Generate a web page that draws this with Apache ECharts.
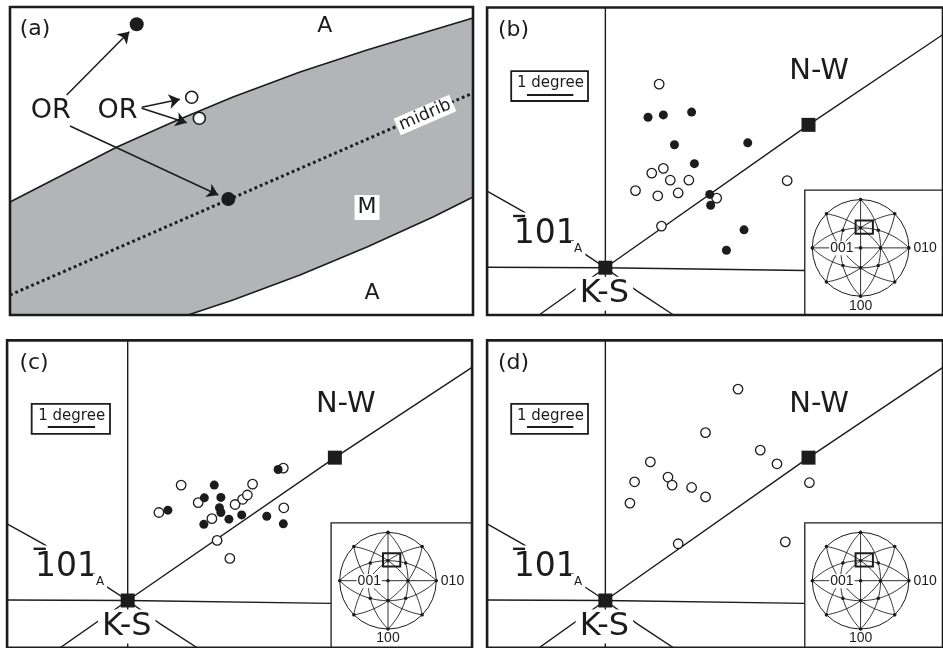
<!DOCTYPE html>
<html><head><meta charset="utf-8">
<script src="https://cdn.jsdelivr.net/npm/echarts@6/dist/echarts.min.js"></script>
<style>html,body{margin:0;padding:0;background:#fff}#c{width:943px;height:648px}</style>
</head><body><div id="c"></div>
<script>
// ================= DATA =================
// Panel (a): schematic of a martensite plate; units = panel pixels, origin at bottom-left of frame
const aUpperBoundary = [[0,113],[107,168],[163,193],[223,218],[290,243],[357,265],[423,285],[463,297]];
const aLowerBoundary = [[463,118],[423,98],[357,68],[290,40],[223,15],[178,0]];
const aMidrib = [[0,20],[463,222]];
const aFilledPoints = [[126.7,290.7],[218.3,116]];
const aOpenPoints = [[181.7,217.7],[189.3,196.7]];
const aArrows = [
  [[56.7,220],[119.3,283.3]],
  [[60,189],[208.3,120]],
  [[131.7,207.7],[170,215.7]],
  [[131.7,206.7],[176.7,192.3]]
];

// Panels (b)-(d): orientation offsets in degrees, origin = K-S orientation
const refKS = [0, 0];
const refNW = [4.38, 3.02];
const traceLines = [
  [[-2.55,1.62],[-1.76,1.18],[-0.40,0.26],[0,0],[0.68,-0.49],[1.47,-1.0]],
  [[-1.43,-1.0],[0,0],[4.38,3.02],[7.28,4.93]],
  [[-2.55,0.01],[0,0],[4.30,-0.06]],
  [[0,-1.0],[0,5.5]]
];
const scaleBar = [[-1.69,3.666],[-0.69,3.666]]; // 1 degree

const bOpen = [[1.16,3.88],[1.00,2.00],[1.25,2.10],[1.40,1.85],[1.80,1.85],[0.65,1.63],[1.13,1.52],[1.57,1.58],[2.40,1.47],[1.21,0.88],[3.92,1.84]];
const bFilled = [[0.92,3.18],[1.25,3.23],[1.86,3.29],[1.49,2.60],[3.07,2.64],[1.92,2.20],[2.25,1.55],[2.27,1.32],[2.99,0.80],[2.61,0.37]];
const cOpen = [[1.13,2.44],[0.66,1.86],[1.49,2.07],[1.78,1.73],[2.27,2.03],[2.43,2.14],[2.53,2.23],[2.64,2.46],[3.29,2.80],[3.30,1.96],[1.89,1.27],[2.16,0.89]];
const cFilled = [[0.85,1.91],[1.83,2.44],[1.62,2.17],[1.97,2.18],[1.94,1.96],[1.97,1.86],[1.61,1.61],[2.14,1.72],[2.41,1.81],[2.94,1.78],[3.29,1.62],[3.18,2.77]];
const dOpen = [[2.86,4.47],[2.16,3.55],[0.97,2.93],[3.34,3.18],[3.70,2.89],[0.63,2.51],[1.35,2.61],[1.44,2.44],[1.86,2.39],[2.16,2.19],[0.53,2.06],[1.57,1.20],[3.88,1.24],[4.40,2.49]];
const panelLabels = ['(b)','(c)','(d)'];

// ================= LAYOUT =================
const INK = '#1c1c1c';
const FONT = '"DejaVu Sans", sans-serif';
const DEG = 47.3;                 // pixels per degree
const XR = [-2.55, 7.28], YR = [-1.0, 5.5];
const ksPix = [[607.7,267.7],[127.7,600.5],[607.7,600.5]];
const grids = [{left:10, top:7, width:463, height:308}];
ksPix.forEach(k => grids.push({left:k[0]+XR[0]*DEG, top:k[1]-YR[1]*DEG, width:(XR[1]-XR[0])*DEG, height:(YR[1]-YR[0])*DEG}));
const stereo = {c:[5.503,0.419], r:1.021};
const inset = {x0:4.30, y0:1.64};

const chart = echarts.init(document.getElementById('c'), null, {renderer:'canvas'});
const xAxis = [{gridIndex:0,type:'value',min:0,max:463,show:false}];
const yAxis = [{gridIndex:0,type:'value',min:0,max:308,show:false}];
for (let i=1;i<=3;i++){
  xAxis.push({gridIndex:i,type:'value',min:XR[0],max:XR[1],show:false});
  yAxis.push({gridIndex:i,type:'value',min:YR[0],max:YR[1],show:false});
}
const series = [];
const bandPolygon = aUpperBoundary.concat(aLowerBoundary, [[0,0]]);
series.push({type:'custom', xAxisIndex:0, yAxisIndex:0, silent:true, z:1, data:[[0,0]],
  renderItem:(params, api) => ({type:'polygon', shape:{points: bandPolygon.map(pt => api.coord(pt))}, style:{fill:'#b3b4b7', stroke:'none'}})});
[aUpperBoundary, aLowerBoundary].forEach(d => series.push({type:'line', xAxisIndex:0, yAxisIndex:0, data:d, symbol:'none', silent:true, z:2, lineStyle:{color:INK, width:1.6}}));
series.push({type:'line', xAxisIndex:0, yAxisIndex:0, data:aMidrib, symbol:'none', silent:true, z:2, lineStyle:{color:INK, width:3, type:[2.8,3]}});
series.push({type:'lines', coordinateSystem:'cartesian2d', xAxisIndex:0, yAxisIndex:0, silent:true, z:3,
  symbol:['none','arrow'], symbolSize:11, lineStyle:{color:INK, width:1.5, opacity:1, curveness:0},
  data:aArrows.map(c => ({coords:c}))});
series.push({type:'scatter', xAxisIndex:0, yAxisIndex:0, data:aOpenPoints, symbolSize:12, silent:true, z:4, itemStyle:{color:'#fff', borderColor:INK, borderWidth:1.6, opacity:1}});
series.push({type:'scatter', xAxisIndex:0, yAxisIndex:0, data:aFilledPoints, symbolSize:14, silent:true, z:4, itemStyle:{color:INK, opacity:1}});

const openSets = [bOpen, cOpen, dOpen];
const filledSets = [bFilled, cFilled, []];
for (let i=1;i<=3;i++){
  series.push({type:'lines', coordinateSystem:'cartesian2d', xAxisIndex:i, yAxisIndex:i, polyline:true, clip:true, silent:true, z:2,
    lineStyle:{color:INK, width:1.4, opacity:1}, data: traceLines.map(c => ({coords:c}))});
  series.push({type:'lines', coordinateSystem:'cartesian2d', xAxisIndex:i, yAxisIndex:i, silent:true, z:2,
    lineStyle:{color:INK, width:2, opacity:1}, data:[{coords:scaleBar}]});
  series.push({type:'scatter', xAxisIndex:i, yAxisIndex:i, data:[refKS, refNW], symbol:'rect', symbolSize:14, silent:true, z:3, itemStyle:{color:INK, opacity:1}});
  series.push({type:'scatter', xAxisIndex:i, yAxisIndex:i, data:openSets[i-1], symbolSize:9.5, silent:true, z:4, itemStyle:{color:'#fff', borderColor:INK, borderWidth:1.3, opacity:1}});
  if (filledSets[i-1].length) series.push({type:'scatter', xAxisIndex:i, yAxisIndex:i, data:filledSets[i-1], symbolSize:9, silent:true, z:5, itemStyle:{color:INK, opacity:1}});
}

chart.setOption({animation:false, backgroundColor:'#fff',
  grid: grids.map(g => Object.assign({show:false, containLabel:false}, g)),
  xAxis, yAxis, series});

// ================= ANNOTATIONS =================
const G = [];
const P = (gi, pt) => chart.convertToPixel({gridIndex:gi}, pt);
function text(gi, pt, str, size, opt) {
  opt = opt || {};
  const q = P(gi, pt);
  G.push({type:'text', x:q[0], y:q[1], rotation:opt.rotation||0, z:opt.z||100, silent:true,
    style:Object.assign({text:str, font:size+'px '+(opt.family||FONT), fill:INK, align:'center', verticalAlign:'middle'}, opt.style||{})});
}
// frames
for (let i=0;i<4;i++){
  const a = P(i, [xAxis[i].min, yAxis[i].max]), b = P(i, [xAxis[i].max, yAxis[i].min]);
  G.push({type:'rect', z:200, silent:true, shape:{x:a[0], y:a[1], width:b[0]-a[0], height:b[1]-a[1]}, style:{fill:'none', stroke:INK, lineWidth:2.6}});
}
// panel (a) texts
text(0, [25,286.2], '(a)', 22);
text(0, [40.8,204], 'OR', 27);
text(0, [107.5,204], 'OR', 27);
text(0, [314.7,288.8], 'A', 22);
text(0, [362,22.2], 'A', 22);
text(0, [357,107.5], 'M', 22, {style:{backgroundColor:'#fff', padding:[2,3,1,3]}});
text(0, [415,200], 'midrib', 17, {rotation:Math.atan2(aMidrib[1][1]-aMidrib[0][1], aMidrib[1][0]-aMidrib[0][0]), style:{backgroundColor:'#fff', padding:[0,3,1,3]}});

function greatArc(cx, cy, r, ux, uy, vx, vy, d) {
  const dd = d*r, c = (dd*dd - r*r)/(2*dd), Cx = cx + c*vx, Cy = cy + c*vy, R = dd - c;
  const a1 = Math.atan2(cy + r*uy - Cy, cx + r*ux - Cx), a2 = Math.atan2(cy - r*uy - Cy, cx - r*ux - Cx);
  let diff = a2 - a1; while (diff > Math.PI) diff -= 2*Math.PI; while (diff < -Math.PI) diff += 2*Math.PI;
  const pts = []; for (let k=0;k<=48;k++){ const a = a1 + diff*k/48; pts.push([Cx + R*Math.cos(a), Cy + R*Math.sin(a)]); }
  return pts;
}
const s2 = Math.SQRT1_2;
for (let i=1;i<=3;i++){
  text(i, [-1.98,5.02], panelLabels[i-1], 22);
  text(i, [4.61,4.15], 'N-W', 29);
  text(i, [-0.02,-0.55], 'K-S', 32, {style:{backgroundColor:'#fff', padding:[3,4,1,4], lineHeight:30}});
  text(i, [-1.294,0.70], '101', 33, {style:{backgroundColor:'#fff', padding:[6,5,4,5], lineHeight:34}});
  const o0 = P(i, [-1.99,1.093]), o1 = P(i, [-1.73,1.093]);
  G.push({type:'line', z:101, silent:true, shape:{x1:o0[0], y1:o0[1], x2:o1[0], y2:o1[1]}, style:{stroke:INK, lineWidth:2.4}});
  text(i, [-0.586,0.395], 'A', 12, {style:{backgroundColor:'#fff', padding:[2,3,2,3]}});
  // scale box
  const s0 = P(i, [-2.03,4.158]), s1 = P(i, [-0.374,3.524]);
  G.push({type:'rect', z:90, silent:true, shape:{x:s0[0], y:s0[1], width:s1[0]-s0[0], height:s1[1]-s0[1]}, style:{fill:'none', stroke:INK, lineWidth:1.8}});
  text(i, [-1.184,3.905], '1 degree', 15);
  // inset
  const i0 = P(i, [inset.x0, inset.y0]), i1 = P(i, [XR[1], YR[0]]);
  G.push({type:'rect', z:60, silent:true, shape:{x:i0[0], y:i0[1], width:i1[0]-i0[0], height:i1[1]-i0[1]}, style:{fill:'#fff', stroke:INK, lineWidth:1.3}});
  const c = P(i, stereo.c), cx = c[0], cy = c[1], r = stereo.r*DEG;
  const st = {stroke:INK, lineWidth:0.9, fill:'none'};
  G.push({type:'circle', z:61, silent:true, shape:{cx, cy, r}, style:Object.assign({}, st, {lineWidth:1})});
  G.push({type:'line', z:61, silent:true, shape:{x1:cx, y1:cy-r, x2:cx, y2:cy+r}, style:st});
  G.push({type:'line', z:61, silent:true, shape:{x1:cx-r, y1:cy, x2:cx+r, y2:cy}, style:st});
  const lenses = [
    [0,1, 1,0, 0.414],[0,1, -1,0, 0.414],[1,0, 0,1, 0.414],[1,0, 0,-1, 0.414],
    [s2,s2, s2,-s2, 0.318],[s2,s2, -s2,s2, 0.318],[s2,-s2, s2,s2, 0.318],[s2,-s2, -s2,-s2, 0.318]
  ];
  lenses.forEach(L => G.push({type:'polyline', z:61, silent:true, shape:{points:greatArc(cx,cy,r,L[0],L[1],L[2],L[3],L[4])}, style:st}));
  const dots = [[0,0]];
  for (let k=0;k<8;k++){ const a = k*Math.PI/4; dots.push([Math.cos(a), Math.sin(a)]); dots.push([(k%2?0.518:0.414)*Math.cos(a), (k%2?0.518:0.414)*Math.sin(a)]); }
  dots.forEach(d => G.push({type:'circle', z:62, silent:true, shape:{cx:cx+d[0]*r, cy:cy+d[1]*r, r:1.8}, style:{fill:INK}}));
  G.push({type:'rect', z:63, silent:true, shape:{x:cx-5, y:cy-27.4, width:17.3, height:13.3}, style:{fill:'none', stroke:INK, lineWidth:2}});
  const lab = (dx, dy, s, bg) => G.push({type:'text', x:cx+dx, y:cy+dy, z:64, silent:true, style:{text:s, font:'14px "Liberation Sans", Arial, sans-serif', fill:INK, align:'center', verticalAlign:'middle', backgroundColor:bg?'#fff':null, padding:bg?[0,1]:0}});
  lab(-18.7, 0.5, '001', true);
  lab(64.5, 0.5, '010', false);
  lab(0, 57.8, '100', false);
}
chart.setOption({graphic:G});
</script></body></html>
